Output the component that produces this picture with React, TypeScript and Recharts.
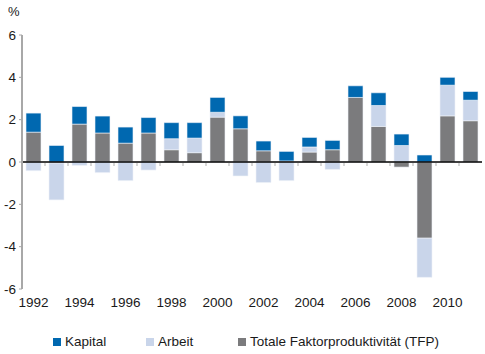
import { BarChart, Bar, XAxis, YAxis, ReferenceLine, Legend } from 'recharts';

const years = ['1992', '1993', '1994', '1995', '1996', '1997', '1998', '1999', '2000', '2001',
  '2002', '2003', '2004', '2005', '2006', '2007', '2008', '2009', '2010', '2011'];
const kapital = [0.9, 0.78, 0.83, 0.8, 0.76, 0.73, 0.76, 0.73, 0.7, 0.61,
  0.46, 0.45, 0.45, 0.44, 0.55, 0.6, 0.54, 0.33, 0.37, 0.41];
const arbeit = [-0.41, -1.74, -0.16, -0.5, -0.88, -0.38, 0.52, 0.69, 0.23, -0.66,
  -0.97, -0.88, 0.24, -0.35, 0, 0.99, 0.78, -1.85, 1.45, 0.97];
const tfp = [1.41, -0.05, 1.79, 1.37, 0.89, 1.37, 0.58, 0.44, 2.12, 1.57,
  0.53, 0.05, 0.47, 0.58, 3.05, 1.68, -0.24, -3.6, 2.18, 1.95];
const yTicks = [-6, -4, -2, 0, 2, 4, 6];

const COLORS = { kapital: '#0068b0', arbeit: '#c9d5ea', tfp: '#7b7b7d' };
const FONT = '"Liberation Sans", Arial, Helvetica, sans-serif';

const data = years.map((y, i) => ({ year: y, kapital: kapital[i], arbeit: arbeit[i], tfp: tfp[i] }));

const legendItems = [
  { label: 'Kapital', color: COLORS.kapital, x: 53 },
  { label: 'Arbeit', color: COLORS.arbeit, x: 146 },
  { label: 'Totale Faktorproduktivität (TFP)', color: COLORS.tfp, x: 238 },
];

const CustomLegend = () => (
  <div style={{ position: 'relative', height: 24, fontFamily: FONT, fontSize: 13.5, color: '#1a1a1a' }}>
    {legendItems.map((it) => (
      <div key={it.label} style={{ position: 'absolute', left: it.x, top: 4, display: 'flex', alignItems: 'center' }}>
        <span style={{ width: 8, height: 8, background: it.color, display: 'inline-block', marginRight: 4 }} />
        <span>{it.label}</span>
      </div>
    ))}
  </div>
);

// small grey tick below the zero line, on the left edge of each category
const BoundaryTick = (props: any) => {
  const half = 11.5;
  const x = props.x1 - half;
  return <line x1={x} x2={x} y1={props.y1 + 1} y2={props.y1 + 4} stroke="#bdbdbd" strokeWidth={1.2} />;
};

export default function App() {
  return (
    <div style={{ position: 'absolute', left: 0, top: 0, width: 485, height: 354, background: '#fff' }}>
      <div style={{ position: 'absolute', left: 8, top: 4, fontFamily: FONT, fontSize: 13, color: '#1a1a1a' }}>%</div>
      <BarChart
        width={485}
        height={354}
        data={data}
        stackOffset="sign"
        margin={{ top: 35, right: 3, left: 0, bottom: 0 }}
        barSize={15}
      >
        <XAxis
          dataKey="year"
          interval={1}
          axisLine={false}
          tickLine={false}
          height={41}
          tick={{ fill: '#1a1a1a', fontSize: 13.5, fontFamily: FONT }}
        />
        <YAxis
          width={22}
          domain={[-6, 6]}
          ticks={yTicks}
          axisLine={{ stroke: '#a8a8a8', strokeWidth: 2 }}
          tickLine={{ stroke: '#a8a8a8' }}
          tickSize={3}
          tickMargin={3}
          tick={{ fill: '#1a1a1a', fontSize: 13.5, fontFamily: FONT }}
        />
        <Legend verticalAlign="bottom" height={24} content={<CustomLegend />} />
        <Bar dataKey="tfp" stackId="a" fill={COLORS.tfp} stroke="#eef2f8" strokeWidth={0.6} isAnimationActive={false} />
        <Bar dataKey="arbeit" stackId="a" fill={COLORS.arbeit} stroke="#eef2f8" strokeWidth={0.6} isAnimationActive={false} />
        <Bar dataKey="kapital" stackId="a" fill={COLORS.kapital} stroke="#eef2f8" strokeWidth={0.6} isAnimationActive={false} />
        {years.slice(1).map((y) => (
          <ReferenceLine key={y} segment={[{ x: y, y: 0 }, { x: y, y: 0 }]} shape={<BoundaryTick />} />
        ))}
        <ReferenceLine y={0} stroke="#000" strokeWidth={1.3} />
      </BarChart>
    </div>
  );
}
